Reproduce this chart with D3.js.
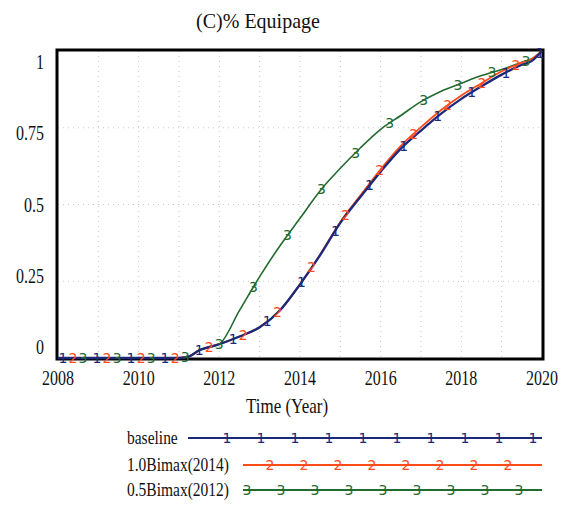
<!DOCTYPE html>
<html>
<head>
<meta charset="utf-8">
<script src="https://d3js.org/d3.v7.min.js"></script>
<style>
body { margin: 0; background: #ffffff; }
text { font-family: "Liberation Serif", "Times New Roman", serif; fill: #111; }
.mark { font-family: "DejaVu Sans", sans-serif; }
</style>
</head>
<body>
<div id="chart"></div>
<script>
// time points (years) and the three runs
var years     = [2008, 2009, 2010, 2011, 2011.25, 2011.5, 2012, 2012.5, 2013, 2013.5, 2014, 2014.5, 2015, 2015.5, 2016, 2016.5, 2017, 2017.5, 2018, 2018.5, 2019, 2019.5, 2019.75, 2020];
var baseline  = [0, 0, 0, 0, 0.005, 0.025, 0.045, 0.07, 0.1, 0.155, 0.24, 0.335, 0.44, 0.525, 0.607, 0.682, 0.741, 0.796, 0.844, 0.885, 0.923, 0.955, 0.968, 1.0];
var bimax2014 = [0, 0, 0, 0, 0.005, 0.025, 0.045, 0.07, 0.1, 0.155, 0.24, 0.337, 0.443, 0.53, 0.615, 0.691, 0.752, 0.808, 0.855, 0.895, 0.934, 0.962, 0.975, 1.0];
var bimax2012 = [0, 0, 0, 0, 0.005, 0.025, 0.045, 0.155, 0.265, 0.365, 0.455, 0.545, 0.618, 0.685, 0.745, 0.79, 0.835, 0.869, 0.895, 0.92, 0.94, 0.963, 0.975, 1.0];

var seriesNames  = ["baseline", "1.0Bimax(2014)", "0.5Bimax(2012)"];
var seriesColors = ["#1c2878", "#ff4a1a", "#236a2e"];
var seriesMarks  = ["1", "2", "3"];
var seriesWidths = [2.3, 1.8, 1.6];

var xTicks = [2008, 2010, 2012, 2014, 2016, 2018, 2020];
var yTicks = [0, 0.25, 0.5, 0.75, 1];

var width = 570, height = 505;

var svg = d3.select("#chart").append("svg")
    .attr("width", width)
    .attr("height", height);

var x = d3.scaleLinear().domain([2008, 2020]).range([58, 542]);
var y = d3.scaleLinear().domain([0, 1]).range([358, 51]);
// vensim puts the value labels a bit inside the frame
var yLab = d3.scaleLinear().domain([0, 1]).range([347, 62]);

// title
svg.append("text")
    .attr("transform", "translate(258,28) scale(1,1.1)")
    .attr("text-anchor", "middle")
    .style("font-size", "20px")
    .text("(C)% Equipage");

// dotted grid
svg.append("g").selectAll("line")
    .data(d3.range(2009, 2020))
    .enter().append("line")
    .attr("x1", function(d) { return x(d); })
    .attr("x2", function(d) { return x(d); })
    .attr("y1", y(1)).attr("y2", y(0))
    .attr("stroke", "#c8c8c8")
    .attr("stroke-dasharray", "1,4");

svg.append("g").selectAll("line")
    .data([0.25, 0.5, 0.75])
    .enter().append("line")
    .attr("x1", x(2008)).attr("x2", x(2020))
    .attr("y1", function(d) { return y(d); })
    .attr("y2", function(d) { return y(d); })
    .attr("stroke", "#c8c8c8")
    .attr("stroke-dasharray", "1,4");

// frame
svg.append("rect")
    .attr("x", 57).attr("y", 50)
    .attr("width", 486).attr("height", 309)
    .attr("fill", "none")
    .attr("stroke", "#000")
    .attr("stroke-width", 3);

// tick labels
svg.append("g").selectAll("text")
    .data(xTicks)
    .enter().append("text")
    .attr("transform", function(d) { return "translate(" + x(d) + ",385) scale(1,1.25)"; })
    .attr("text-anchor", "middle")
    .style("font-size", "16px")
    .text(function(d) { return d; });

svg.append("g").selectAll("text")
    .data(yTicks)
    .enter().append("text")
    .attr("transform", function(d) { return "translate(44," + (yLab(d) + 7) + ") scale(1,1.25)"; })
    .attr("text-anchor", "end")
    .style("font-size", "16px")
    .text(function(d) { return d; });

svg.append("text")
    .attr("transform", "translate(287,413) scale(1,1.2)")
    .attr("text-anchor", "middle")
    .style("font-size", "17px")
    .text("Time (Year)");

// lines
var series = [baseline, bimax2014, bimax2012];
var line = d3.line()
    .x(function(d, i) { return x(years[i]); })
    .y(function(d) { return y(d); })
    .curve(d3.curveMonotoneX);

function valueAt(vals, t) {
  var i = d3.bisectRight(years, t);
  if (i <= 0) return vals[0];
  if (i >= years.length) return vals[vals.length - 1];
  var f = (t - years[i - 1]) / (years[i] - years[i - 1]);
  return vals[i - 1] + f * (vals[i] - vals[i - 1]);
}

var markStart = [2008.12, 2008.37, 2008.62];

[2, 1, 0].forEach(function(k) {
  svg.append("path")
      .datum(series[k])
      .attr("d", line)
      .attr("fill", "none")
      .attr("stroke", seriesColors[k])
      .attr("stroke-width", seriesWidths[k]);
});

[2, 1, 0].forEach(function(k) {
  svg.append("g").selectAll("text")
      .data(d3.range(markStart[k], 2020.01, 0.845))
      .enter().append("text")
      .attr("class", "mark")
      .attr("x", function(d) { return x(d); })
      .attr("y", function(d) { return y(valueAt(series[k], d)); })
      .attr("text-anchor", "middle")
      .attr("dominant-baseline", "central")
      .style("font-size", "14px")
      .style("fill", seriesColors[k])
      .text(seriesMarks[k]);
});

// legend
var legY = [438, 465, 490];
var legLineStart = [188, 243, 243];
var legMarkStart = [227, 270, 247];

seriesNames.forEach(function(name, k) {
  var g = svg.append("g");
  g.append("text")
      .attr("transform", "translate(127," + (legY[k] + 6) + ") scale(1,1.25)")
      .style("font-size", "15.5px")
      .text(name);
  g.append("line")
      .attr("x1", legLineStart[k]).attr("x2", 542)
      .attr("y1", legY[k]).attr("y2", legY[k])
      .attr("stroke", seriesColors[k])
      .attr("stroke-width", 2);
  g.selectAll(".mark")
      .data(d3.range(legMarkStart[k], 536, 34))
      .enter().append("text")
      .attr("class", "mark")
      .attr("x", function(d) { return d; })
      .attr("y", legY[k])
      .attr("text-anchor", "middle")
      .attr("dominant-baseline", "central")
      .style("font-size", "14px")
      .style("fill", seriesColors[k])
      .text(seriesMarks[k]);
});
</script>
</body>
</html>
